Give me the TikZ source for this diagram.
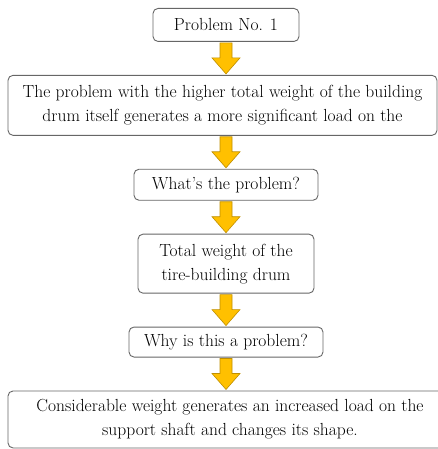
\documentclass[tikz,border=0pt]{standalone}
\usepackage{xcolor}
\usepackage{tikz}
\usetikzlibrary{positioning,calc}
\definecolor{arrowfill}{HTML}{FFC000}
\definecolor{arrowline}{HTML}{BF8F00}
\newcommand{\bigdown}[2]{%
    \path[bigarrow] let \p1=(#1.south), \p2=(#2.north), \p3=(axis) in
        (\x3-6pt,\y1-1pt) -- (\x3+6pt,\y1-1pt) -- (\x3+6pt,\y2+17pt)
        -- (\x3+14pt,\y2+17pt) -- (\x3,\y2+1pt) -- (\x3-14pt,\y2+17pt)
        -- (\x3-6pt,\y2+17pt) -- cycle;}

\begin{document}
\begin{tikzpicture}
    [x=1pt, y=-1pt, node distance=33pt,
    box/.style={draw=black!60, line width=0.9pt, rounded corners=5pt, fill=white,
        align=center, inner sep=0pt, font=\fontsize{17.5}{24}\selectfont},
    bigarrow/.style={fill=arrowfill, draw=arrowline, line width=0.6pt, line join=miter}]

\useasboundingbox (0,0) rectangle (438,449);
\coordinate (axis) at (226,0);

\node[box, minimum width=146pt, minimum height=33pt, anchor=north] (probno) at (226,8) {Problem No. 1};
\node[box, minimum width=429pt, minimum height=60pt, below=of probno, xshift=-3.5pt] (weight)
    {The problem with the higher total weight of the building\\
     drum itself generates a more significant load on the};
\node[box, minimum width=184pt, minimum height=31pt, below=of weight, xshift=3.5pt] (what) {What's the problem?};
\node[box, minimum width=176pt, minimum height=59pt, below=of what] (drum)
    {Total weight of the\\ tire-building drum};
\node[box, minimum width=194pt, minimum height=30pt, below=of drum] (why) {Why is this a problem?};
\node[box, minimum width=444pt, minimum height=57pt, below=of why, xshift=4pt] (shaft)
    {Considerable weight generates an increased load on the\\
     support shaft and changes its shape.};

\bigdown{probno}{weight}
\bigdown{weight}{what}
\bigdown{what}{drum}
\bigdown{drum}{why}
\bigdown{why}{shaft}
\end{tikzpicture}
\end{document}
